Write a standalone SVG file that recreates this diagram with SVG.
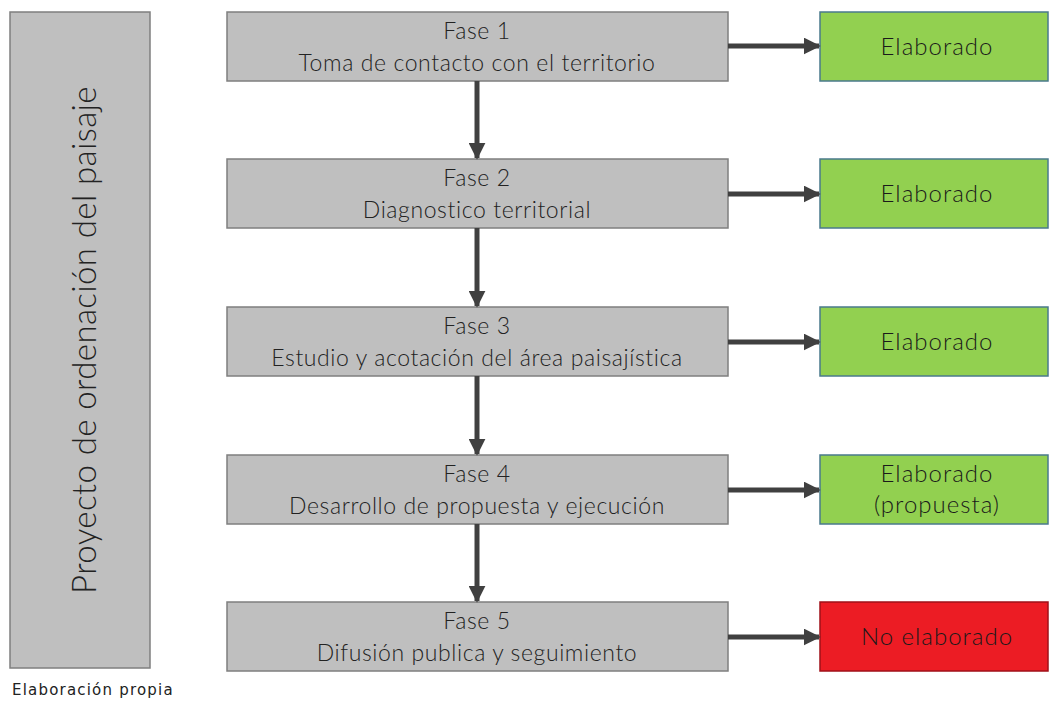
<svg xmlns="http://www.w3.org/2000/svg" width="1050" height="708" viewBox="0 0 1050 708">
<style>
.g{fill:#BFBFBF;stroke:#7F7F7F;stroke-width:1.5}
.ok{fill:#92D050;stroke:#4A7A8C;stroke-width:1.5}
.no{fill:#EC1C24;stroke:#A01018;stroke-width:1.5}
.t{font-family:Lato,"Liberation Sans",sans-serif;font-weight:300;font-size:23px;letter-spacing:0.6px;fill:#222;text-anchor:middle}
.s{font-family:Lato,"Liberation Sans",sans-serif;font-weight:300;font-size:24px;letter-spacing:1px;fill:#1a1a1a;text-anchor:middle}
.c{stroke:#404040;stroke-width:5;fill:none}
</style>
<defs>
<marker id="ah" viewBox="0 0 10 10" refX="9" refY="5" markerWidth="3.4" markerHeight="3.4" markerUnits="strokeWidth" orient="auto">
<path d="M0,0 L10,5 L0,10 z" fill="#404040"/>
</marker>
</defs>
<rect width="1050" height="708" fill="#fff"/>
<g id="proyecto">
<rect class="g" x="10" y="12" width="140" height="656"/>
<text class="t" style="font-size:33px;letter-spacing:0.4px" transform="translate(96,340) rotate(-90)">Proyecto de ordenación del paisaje</text>
</g>
<g id="fase1">
<rect class="g" x="227" y="12" width="501" height="69"/>
<text class="t" x="477" y="39">Fase 1</text>
<text class="t" x="477" y="71">Toma de contacto con el territorio</text>
</g>
<g id="fase2">
<rect class="g" x="227" y="159" width="501" height="69"/>
<text class="t" x="477" y="186">Fase 2</text>
<text class="t" x="477" y="218">Diagnostico territorial</text>
</g>
<g id="fase3">
<rect class="g" x="227" y="307" width="501" height="69"/>
<text class="t" x="477" y="334">Fase 3</text>
<text class="t" x="477" y="366">Estudio y acotación del área paisajística</text>
</g>
<g id="fase4">
<rect class="g" x="227" y="455" width="501" height="69"/>
<text class="t" x="477" y="482">Fase 4</text>
<text class="t" x="477" y="514">Desarrollo de propuesta y ejecución</text>
</g>
<g id="fase5">
<rect class="g" x="227" y="602" width="501" height="69"/>
<text class="t" x="477" y="629">Fase 5</text>
<text class="t" x="477" y="661">Difusión publica y seguimiento</text>
</g>
<g id="estado1">
<rect class="ok" x="820" y="12" width="228" height="69"/>
<text class="s" x="937" y="55">Elaborado</text>
</g>
<g id="estado2">
<rect class="ok" x="820" y="159" width="228" height="69"/>
<text class="s" x="937" y="202">Elaborado</text>
</g>
<g id="estado3">
<rect class="ok" x="820" y="307" width="228" height="69"/>
<text class="s" x="937" y="350">Elaborado</text>
</g>
<g id="estado4">
<rect class="ok" x="820" y="455" width="228" height="69"/>
<text class="s" x="937" y="482">Elaborado</text>
<text class="s" x="937" y="513">(propuesta)</text>
</g>
<g id="estado5">
<rect class="no" x="820" y="602" width="228" height="69"/>
<text class="s" x="937" y="645">No elaborado</text>
</g>
<g id="connectors">
<line class="c" x1="477" y1="81" x2="477" y2="158" marker-end="url(#ah)"/>
<line class="c" x1="477" y1="228" x2="477" y2="306" marker-end="url(#ah)"/>
<line class="c" x1="477" y1="376" x2="477" y2="454" marker-end="url(#ah)"/>
<line class="c" x1="477" y1="524" x2="477" y2="601" marker-end="url(#ah)"/>
<line class="c" x1="728" y1="46" x2="819" y2="46" marker-end="url(#ah)"/>
<line class="c" x1="728" y1="194" x2="819" y2="194" marker-end="url(#ah)"/>
<line class="c" x1="728" y1="342" x2="819" y2="342" marker-end="url(#ah)"/>
<line class="c" x1="728" y1="490" x2="819" y2="490" marker-end="url(#ah)"/>
<line class="c" x1="728" y1="637" x2="819" y2="637" marker-end="url(#ah)"/>
</g>
<text x="12" y="695" style="font-family:'DejaVu Sans',sans-serif;font-size:15px;letter-spacing:1.2px;fill:#222">Elaboración propia</text>
</svg>
